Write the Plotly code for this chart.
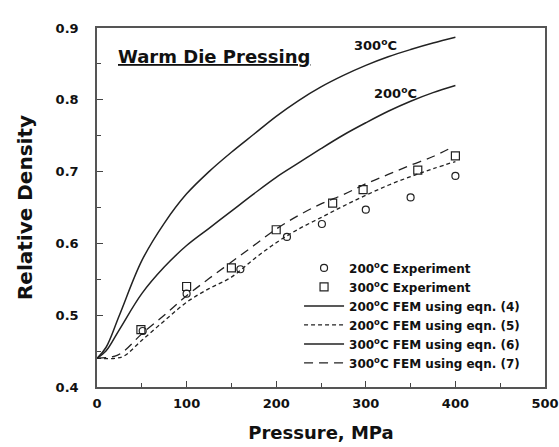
import plotly.graph_objects as go

# Experimental data
exp_p_200 = [51, 100, 160, 212, 251, 300, 350, 400]
exp_d_200 = [0.478, 0.530, 0.564, 0.609, 0.627, 0.647, 0.664, 0.694]
exp_p_300 = [49, 100, 150, 200, 263, 297, 358, 400]
exp_d_300 = [0.480, 0.540, 0.566, 0.619, 0.656, 0.675, 0.702, 0.722]

# FEM curves
fem_p = [0, 10, 25, 50, 75, 100, 125, 150, 175, 200, 225, 250, 275, 300, 325, 350, 375, 400]
fem4_200 = [0.44, 0.45, 0.48, 0.530, 0.567, 0.597, 0.621, 0.645, 0.669, 0.692, 0.712, 0.732, 0.751, 0.768, 0.784, 0.798, 0.810, 0.820]
fem6_300 = [0.44, 0.455, 0.50, 0.576, 0.628, 0.669, 0.700, 0.727, 0.752, 0.777, 0.799, 0.818, 0.834, 0.848, 0.860, 0.870, 0.879, 0.887]

dash_p5 = [0, 20, 30, 50, 75, 100, 125, 150, 175, 200, 225, 250, 275, 300, 325, 350, 375, 400]
fem5_200 = [0.44, 0.44, 0.443, 0.465, 0.492, 0.518, 0.537, 0.553, 0.578, 0.601, 0.620, 0.636, 0.652, 0.667, 0.681, 0.693, 0.704, 0.714]
dash_p7 = [0, 20, 30, 50, 75, 100, 125, 150, 175, 200, 225, 250, 275, 300, 325, 350, 375, 395]
fem7_300 = [0.44, 0.443, 0.45, 0.474, 0.50, 0.527, 0.551, 0.574, 0.597, 0.620, 0.639, 0.655, 0.668, 0.683, 0.696, 0.709, 0.721, 0.733]

x_ticks = [0, 100, 200, 300, 400, 500]
y_ticks = [0.4, 0.5, 0.6, 0.7, 0.8, 0.9]

LC = "#222222"
fig = go.Figure()
fig.add_trace(go.Scatter(x=exp_p_200, y=exp_d_200, mode="markers", name="200<sup>o</sup>C Experiment",
                         marker=dict(symbol="circle-open", size=7, color=LC, line=dict(width=1.2))))
fig.add_trace(go.Scatter(x=exp_p_300, y=exp_d_300, mode="markers", name="300<sup>o</sup>C Experiment",
                         marker=dict(symbol="square-open", size=8, color=LC, line=dict(width=1.2))))
fig.add_trace(go.Scatter(x=fem_p, y=fem4_200, mode="lines", name="200<sup>o</sup>C FEM using eqn. (4)",
                         line=dict(color=LC, width=1.5, shape="spline")))
fig.add_trace(go.Scatter(x=dash_p5, y=fem5_200, mode="lines", name="200<sup>o</sup>C FEM using eqn. (5)",
                         line=dict(color=LC, width=1.3, dash="4px,3px", shape="spline")))
fig.add_trace(go.Scatter(x=fem_p, y=fem6_300, mode="lines", name="300<sup>o</sup>C FEM using eqn. (6)",
                         line=dict(color=LC, width=1.5, shape="spline")))
fig.add_trace(go.Scatter(x=dash_p7, y=fem7_300, mode="lines", name="300<sup>o</sup>C FEM using eqn. (7)",
                         line=dict(color=LC, width=1.3, dash="9px,6px", shape="spline")))

FONT = "DejaVu Sans"
fig.update_layout(
    width=559, height=447,
    margin=dict(l=97, r=14, t=28, b=60),
    paper_bgcolor="white", plot_bgcolor="white",
    font=dict(family=FONT, color="#111111"),
    showlegend=True,
    legend=dict(x=0.451, y=0.372, xanchor="left", yanchor="top",
                bgcolor="rgba(0,0,0,0)",
                font=dict(size=12, family=FONT, color="#111111", weight="bold"),
                tracegroupgap=0, itemwidth=40),
    xaxis=dict(range=[0, 500], tickvals=x_ticks, ticktext=["<b>%d</b>" % v for v in x_ticks],
               ticks="inside", ticklen=6, tickwidth=1.2, ticklabelstandoff=4, automargin=False,
               tickcolor="#444", showline=True, linecolor="#555", linewidth=1.5, mirror=True,
               showgrid=False, zeroline=False,
               tickfont=dict(size=13, family=FONT, color="#111"),
               minor=dict(dtick=50, ticks="inside", ticklen=4, tickcolor="#444"),
               title=dict(text="<b>Pressure, MPa</b>", font=dict(size=18, family=FONT), standoff=16)),
    yaxis=dict(range=[0.4, 0.9], tickvals=y_ticks, ticktext=["<b>%.1f</b>" % v for v in y_ticks],
               ticks="inside", ticklen=6, tickwidth=1.2, automargin=False,
               tickcolor="#444", showline=True, linecolor="#555", linewidth=1.5, mirror=True,
               showgrid=False, zeroline=False, ticklabelstandoff=14,
               tickfont=dict(size=13, family=FONT, color="#111"),
               minor=dict(dtick=0.05, ticks="inside", ticklen=4, tickcolor="#444"),
               title=dict(text="<b>Relative Density</b>", font=dict(size=20, family=FONT), standoff=18)),
)

fig.add_annotation(x=131, y=0.861, xref="x", yref="y", showarrow=False,
                   text="<b><span style='text-decoration:underline'>Warm Die Pressing</span></b>",
                   font=dict(size=18, family=FONT, color="#111"))
fig.add_annotation(x=311, y=0.876, xref="x", yref="y", showarrow=False,
                   text="<b>300<sup>o</sup>C</b>", font=dict(size=13, family=FONT, color="#111"))
fig.add_annotation(x=333, y=0.810, xref="x", yref="y", showarrow=False,
                   text="<b>200<sup>o</sup>C</b>", font=dict(size=13, family=FONT, color="#111"))

fig.write_html("out.html")
